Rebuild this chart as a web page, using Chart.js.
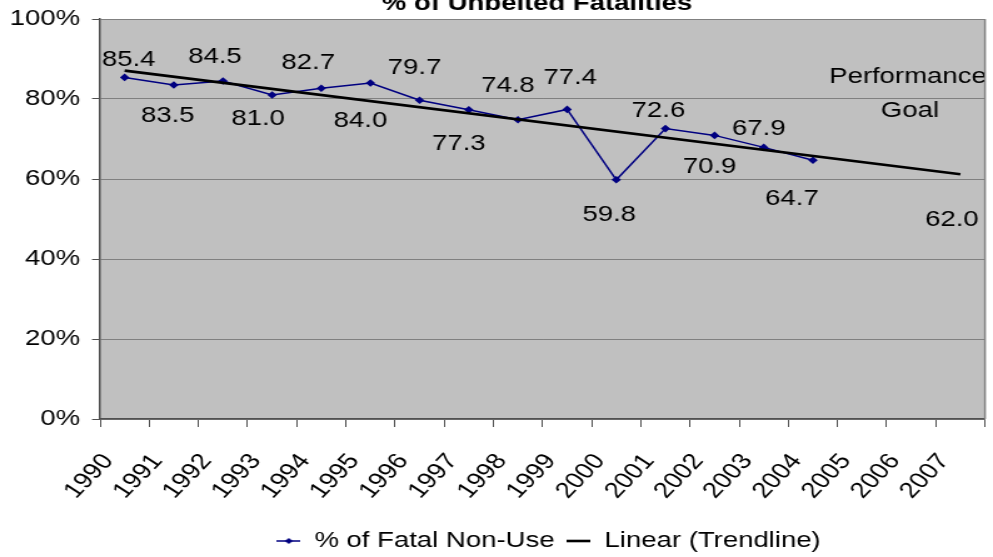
<!DOCTYPE html>
<html>
<head>
<meta charset="utf-8">
<script src="https://cdn.jsdelivr.net/npm/chart.js@4.4.1/dist/chart.umd.min.js"></script>
<style>
  html, body { margin: 0; padding: 0; background: #fff; }
  #wrap { width: 993px; height: 557px; overflow: hidden; position: relative; }
  #chart { position: absolute; left: 0; top: -20px; transform: scaleX(1.25063); transform-origin: 0 0; }
</style>
</head>
<body>
<div id="wrap"><canvas id="chart" width="794" height="582"></canvas></div>
<script>
// data
const years = ["1990", "1991", "1992", "1993", "1994", "1995", "1996", "1997", "1998",
  "1999", "2000", "2001", "2002", "2003", "2004", "2005", "2006", "2007"];
const fatalNonUse = [85.4, 83.5, 84.5, 81.0, 82.7, 84.0, 79.7, 77.3, 74.8,
  77.4, 59.8, 72.6, 70.9, 67.9, 64.7, null, null, null];
const trendline = [87.1, null, null, null, null, null, null, null, null,
  null, null, null, null, null, null, null, null, 61.2];
const goal = [null, null, null, null, null, null, null, null, null,
  null, null, null, null, null, null, null, null, 62.0];
const yTicks = [0, 20, 40, 60, 80, 100];
const titleText = "% of Unbelted Fatalities";
const goalText = ["Performance", "Goal"];

const SX = 993 / 794; // the original picture is stretched sideways
const FONT = "'Liberation Sans', Arial, sans-serif";
const NAVY = "#000080";

// legend markers
function legendMarker(color, width, diamond) {
  const c = document.createElement("canvas");
  c.width = 19; c.height = 10;
  const g = c.getContext("2d");
  g.strokeStyle = color; g.lineWidth = width;
  g.beginPath(); g.moveTo(0, 5); g.lineTo(19, 5); g.stroke();
  if (diamond) {
    g.fillStyle = color;
    g.beginPath(); g.moveTo(9.5, 2); g.lineTo(12.7, 5); g.lineTo(9.5, 8); g.lineTo(6.3, 5); g.closePath(); g.fill();
  }
  return c;
}

const plotBg = {
  id: "plotBg",
  beforeDraw(chart) {
    const { ctx, chartArea: a } = chart;
    ctx.save();
    ctx.fillStyle = "#fff";
    ctx.fillRect(0, 0, chart.width, chart.height);
    ctx.fillStyle = "#c0c0c0";
    ctx.fillRect(a.left, a.top, a.right - a.left, a.bottom - a.top);
    ctx.restore();
  },
  afterDraw(chart) {
    const { ctx, chartArea: a } = chart;
    ctx.save();
    ctx.strokeStyle = "#808080";
    ctx.lineWidth = 1.5;
    ctx.beginPath(); ctx.moveTo(a.right, a.top); ctx.lineTo(a.right, a.bottom); ctx.stroke();
    // title, cut off at the top of the picture
    ctx.fillStyle = "#000";
    ctx.font = "bold 22px " + FONT;
    ctx.textAlign = "center";
    ctx.textBaseline = "alphabetic";
    ctx.fillText(titleText, 429.4, 30);
    ctx.restore();
  },
  afterLayout(chart) {
    chart.legend.left += 45;
    chart.legend.right += 45;
  }
};

// value labels, nudged like the hand placed ones (x in screen px, y in px)
const nudge = [[4, -17], [-6, 31], [-8, -24], [-14, 24], [-13, -25], [-10, 38], [-5, -32],
  [-10, 34], [-10, -34], [3, -31], [-7, 35], [-7, -18], [-5, 32], [-5, -18], [-21, 39]];
const valueLabels = {
  id: "valueLabels",
  afterDatasetsDraw(chart) {
    const ctx = chart.ctx;
    ctx.save();
    ctx.fillStyle = "#000";
    ctx.font = "22px " + FONT;
    ctx.textAlign = "center";
    ctx.textBaseline = "middle";
    chart.getDatasetMeta(0).data.forEach((pt, i) => {
      if (fatalNonUse[i] == null) return;
      const n = nudge[i] || [0, -25];
      ctx.fillText(fatalNonUse[i].toFixed(1), pt.x + n[0] / SX, pt.y + n[1]);
    });
    chart.getDatasetMeta(2).data.forEach((pt, i) => {
      if (goal[i] == null) return;
      ctx.fillText(goal[i].toFixed(1), pt.x - 8.5 / SX, pt.y + 49);
      ctx.fillText(goalText[0], pt.x - 52.5 / SX, pt.y - 94);
      ctx.fillText(goalText[1], pt.x - 50.5 / SX, pt.y - 60);
    });
    ctx.restore();
  }
};

const ctx = document.getElementById("chart").getContext("2d");
const chart = new Chart(ctx, {
  type: "line",
  data: {
    labels: years,
    datasets: [
      {
        label: "% of Fatal Non-Use",
        data: fatalNonUse,
        borderColor: NAVY,
        backgroundColor: NAVY,
        borderWidth: 1.5,
        pointStyle: "rectRot",
        pointRadius: 3.8,
        pointBorderWidth: 0,
        tension: 0,
        spanGaps: false,
        order: 1,
      },
      {
        label: "Linear (Trendline)",
        data: trendline,
        borderColor: "#000",
        borderWidth: 2.6,
        pointRadius: 0,
        spanGaps: true,
        order: 0,
      },
      {
        label: "Performance Goal",
        data: goal,
        showLine: false,
        pointRadius: 0,
        order: 2,
      },
    ],
  },
  options: {
    responsive: false,
    animation: false,
    events: [],
    layout: { padding: { top: 39, right: 6.4, left: 0, bottom: 0 } },
    plugins: {
      title: { display: false },
      tooltip: { enabled: false },
      legend: {
        position: "bottom",
        labels: {
          usePointStyle: true,
          pointStyleWidth: 19,
          padding: 10,
          color: "#000",
          font: { family: FONT, size: 22 },
          generateLabels: () => [
            { text: "% of Fatal Non-Use", pointStyle: legendMarker(NAVY, 1.5, true), fillStyle: "transparent", strokeStyle: "transparent", lineWidth: 0, fontColor: "#000", datasetIndex: 0 },
            { text: "Linear (Trendline)", pointStyle: legendMarker("#000", 2.6, false), fillStyle: "transparent", strokeStyle: "transparent", lineWidth: 0, fontColor: "#000", datasetIndex: 1 },
          ],
        },
      },
    },
    scales: {
      x: {
        offset: true,
        afterFit: (s) => { s.height = 101; s.paddingRight = 0; s.paddingLeft = 0; },
        grid: { offset: true, drawOnChartArea: false, tickLength: 8, color: "#505050" },
        border: { color: "#505050", width: 1.5 },
        ticks: {
          autoSkip: false,
          minRotation: 51.3,
          maxRotation: 51.3,
          padding: 22,
          labelOffset: -13,
          color: "#000",
          font: { family: FONT, size: 22 },
        },
      },
      y: {
        min: 0,
        max: 100,
        afterFit: (s) => { s.width = 80; },
        afterBuildTicks: (s) => { s.ticks = yTicks.map((v) => ({ value: v })); },
        grid: { color: "#808080", tickLength: 6.4, tickColor: "#505050" },
        border: { color: "#505050", width: 1.5 },
        ticks: {
          padding: 9.6,
          color: "#000",
          font: { family: FONT, size: 22 },
          callback: (v) => v + "%",
        },
      },
    },
  },
  plugins: [plotBg, valueLabels],
});
</script>
</body>
</html>
